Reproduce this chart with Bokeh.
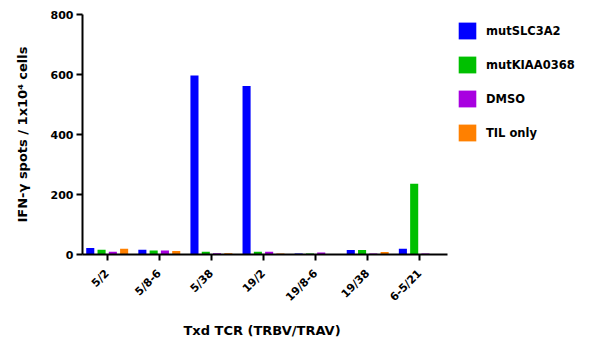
import math
from bokeh.plotting import figure
from bokeh.models import (ColumnDataSource, Range1d, FixedTicker, Legend, LegendItem, Title)
from bokeh.transform import dodge
from bokeh.embed import file_html
from bokeh.resources import INLINE

categories = ["5/2", "5/8-6", "5/38", "19/2", "19/8-6", "19/38", "6-5/21"]
mutSLC3A2 = [22, 16, 597, 562, 3, 15, 19]
mutKIAA0368 = [16, 13, 9, 9, 3, 15, 236]
DMSO = [9, 13, 4, 9, 7, 3, 3]
TIL_only = [19, 12, 4, 3, 2, 8, 2]
series_names = ["mutSLC3A2", "mutKIAA0368", "DMSO", "TIL only"]
series_keys = ["slc", "kiaa", "dmso", "til"]
colors = ["#0000ff", "#00c000", "#a800e0", "#ff8000"]
y_ticks = [0, 200, 400, 600, 800]

positions = list(range(len(categories)))
source = ColumnDataSource(dict(x=positions, cat=categories, slc=mutSLC3A2,
                               kiaa=mutKIAA0368, dmso=DMSO, til=TIL_only))

FONT = "DejaVu Sans"

# frame spans the legend area too; the x axis line is limited with bounds
p = figure(width=605, height=346, x_range=Range1d(-0.474, 9.468),
           y_range=Range1d(0, 800), output_backend="svg", toolbar_location=None,
           min_border_left=82, min_border_right=5, min_border_top=14,
           min_border_bottom=91)
p.outline_line_color = None
p.xgrid.grid_line_color = None
p.ygrid.grid_line_color = None
p.background_fill_color = "white"
p.border_fill_color = "white"

offsets = [-0.325, -0.108, 0.108, 0.325]
renderers = []
for key, name, col, off in zip(series_keys, series_names, colors, offsets):
    r = p.vbar(x=dodge("x", off), top=key, width=0.155,
               source=source, fill_color=col, line_color=None)
    renderers.append((name, r))

legend = Legend(items=[LegendItem(label=n, renderers=[r]) for n, r in renderers],
                location=(374, 111), orientation="vertical",
                glyph_width=22, glyph_height=21, label_height=21, spacing=13,
                label_standoff=8, padding=0, margin=0,
                border_line_color=None, background_fill_alpha=0,
                label_text_font=FONT, label_text_font_style="bold",
                label_text_font_size="11.5px", label_text_color="black")
p.add_layout(legend, "center")

p.yaxis.ticker = FixedTicker(ticks=y_ticks)
p.yaxis.minor_tick_line_color = None
p.yaxis.axis_line_width = 2
p.yaxis.major_tick_line_width = 2
p.yaxis.major_tick_in = 0
p.yaxis.major_tick_out = 6
p.yaxis.major_label_standoff = 3
p.yaxis.axis_label = "IFN-γ spots / 1x10⁴ cells"
p.yaxis.axis_label_standoff = 18

p.xaxis.ticker = FixedTicker(ticks=positions)
p.xaxis.major_label_overrides = {i: c for i, c in zip(positions, categories)}
p.xaxis.minor_tick_line_color = None
p.xaxis.bounds = (-0.474, 6.532)
p.xaxis.axis_line_width = 2
p.xaxis.major_tick_line_width = 2
p.xaxis.major_tick_in = 0
p.xaxis.major_tick_out = 6
p.xaxis.major_label_orientation = math.pi / 4
p.xaxis.major_label_standoff = 11

for ax in (p.xaxis, p.yaxis):
    ax.axis_line_color = "black"
    ax.major_tick_line_color = "black"
    ax.major_label_text_font = FONT
    ax.major_label_text_font_style = "bold"
    ax.major_label_text_font_size = "11px"
    ax.major_label_text_color = "black"
    ax.axis_label_text_font = FONT
    ax.axis_label_text_font_style = "bold"
    ax.axis_label_text_font_size = "13px"
    ax.axis_label_text_color = "black"

# x axis title, centred under the axis line (not under the wider frame)
xtitle = Title(text="Txd TCR (TRBV/TRAV)", align="left", offset=101, standoff=18,
               text_font=FONT, text_font_style="bold", text_font_size="13px",
               text_color="black")
p.add_layout(xtitle, "below")

open("out.html", "w").write(file_html(p, INLINE))
